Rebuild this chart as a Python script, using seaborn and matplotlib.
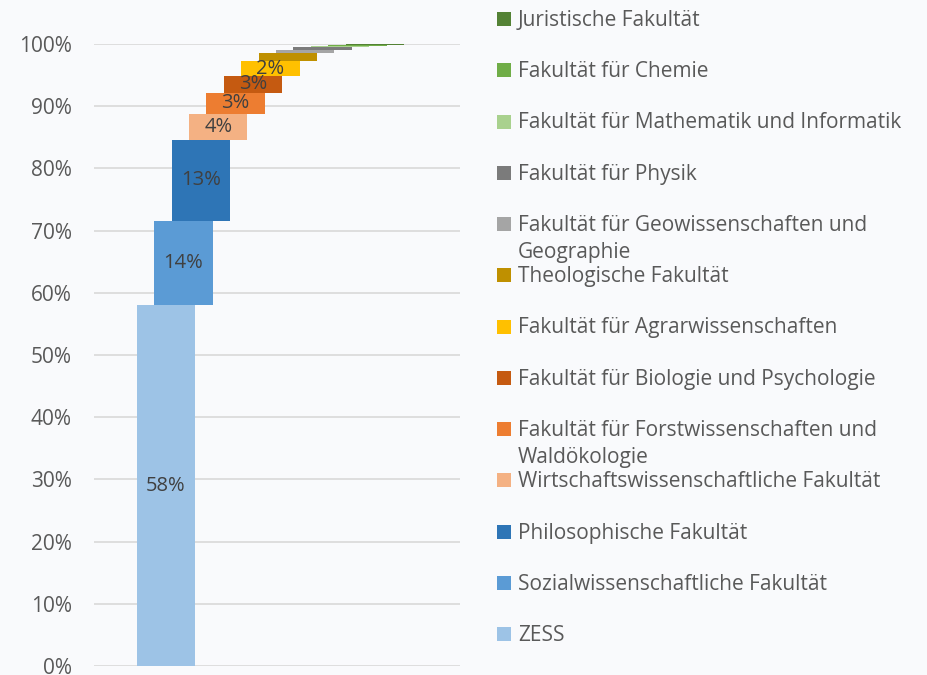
import matplotlib
matplotlib.use("Agg")
import matplotlib.pyplot as plt
import matplotlib.patches as mpatches
import seaborn as sns
import numpy as np
import pandas as pd

categories = ["ZESS", "Sozialwissenschaftliche Fakultät", "Philosophische Fakultät",
              "Wirtschaftswissenschaftliche Fakultät", "Fakultät für Forstwissenschaften und Waldökologie",
              "Fakultät für Biologie und Psychologie", "Fakultät für Agrarwissenschaften",
              "Theologische Fakultät", "Fakultät für Geowissenschaften und Geographie",
              "Fakultät für Physik", "Fakultät für Mathematik und Informatik",
              "Fakultät für Chemie", "Juristische Fakultät"]
shares = [0.580, 0.136, 0.130, 0.042, 0.034, 0.026, 0.024, 0.013, 0.006, 0.0035, 0.0028, 0.0015, 0.0012]
legend_labels = ["ZESS", "Sozialwissenschaftliche Fakultät", "Philosophische Fakultät",
                 "Wirtschaftswissenschaftliche Fakultät", "Fakultät für Forstwissenschaften und\nWaldökologie",
                 "Fakultät für Biologie und Psychologie", "Fakultät für Agrarwissenschaften",
                 "Theologische Fakultät", "Fakultät für Geowissenschaften und\nGeographie",
                 "Fakultät für Physik", "Fakultät für Mathematik und Informatik",
                 "Fakultät für Chemie", "Juristische Fakultät"]
colors = ["#9DC3E6", "#5B9BD5", "#2E75B6", "#F4B183", "#ED7D31", "#C55A11", "#FFC000",
          "#BF9000", "#A5A5A5", "#7B7B7B", "#A9D18E", "#70AD47", "#548235"]
yticks = [0, 0.1, 0.2, 0.3, 0.4, 0.5, 0.6, 0.7, 0.8, 0.9, 1.0]

bottoms = np.concatenate([[0], np.cumsum(shares)[:-1]])
df = pd.DataFrame({"cat": categories, "share": shares})

sns.set_theme(style="white")
plt.rcParams["font.family"] = ["Open Sans", "DejaVu Sans"]
bg = "#F9FAFC"
fig = plt.figure(figsize=(9.27, 6.75), dpi=100, facecolor=bg)
ax = fig.add_axes([94/927, 1-666/675, (460-94)/927, (666-44)/675])
ax.set_facecolor(bg)

sns.barplot(data=df, x="cat", y="share", order=categories, color=colors[0],
            bottom=bottoms, width=3.35, saturation=1, linewidth=0, ax=ax, zorder=3)
for patch, c in zip(ax.patches, colors):
    patch.set_facecolor(c)

for i, (v, b) in enumerate(zip(shares, bottoms)):
    if v >= 0.02:
        ax.text(i, b + v/2, f"{round(v*100):.0f}%", ha="center", va="center",
                fontsize=14.5, color="#404040", zorder=5)

ax.set_xlim(-4.14, 16.9)
ax.set_ylim(0, 1)
ax.set_yticks(yticks)
ax.set_yticklabels([f"{int(round(t*100))}%" for t in yticks], fontsize=15, color="#595959")
ax.tick_params(axis="y", length=0, pad=16)
ax.set_xticks([])
ax.set_xlabel("")
ax.set_ylabel("")
ax.grid(axis="y", color="#D9D9D9", linewidth=1.2, zorder=0)
for s in ax.spines.values():
    s.set_visible(False)

# legend (reverse order)
W, H = 927, 675
top_y = 19
step = 51.25
for k, idx in enumerate(range(len(categories)-1, -1, -1)):
    yc = top_y + k*step
    fig.patches.append(mpatches.Rectangle((497/W, 1-(yc+7)/H), 14/W, 14/H,
                                          transform=fig.transFigure, facecolor=colors[idx],
                                          edgecolor="none"))
    fig.text(518/W, 1-(yc-9)/H, legend_labels[idx], ha="left", va="top", fontsize=15,
             color="#595959", linespacing=1.4)

fig.savefig("out.png", dpi=100, facecolor=bg)
